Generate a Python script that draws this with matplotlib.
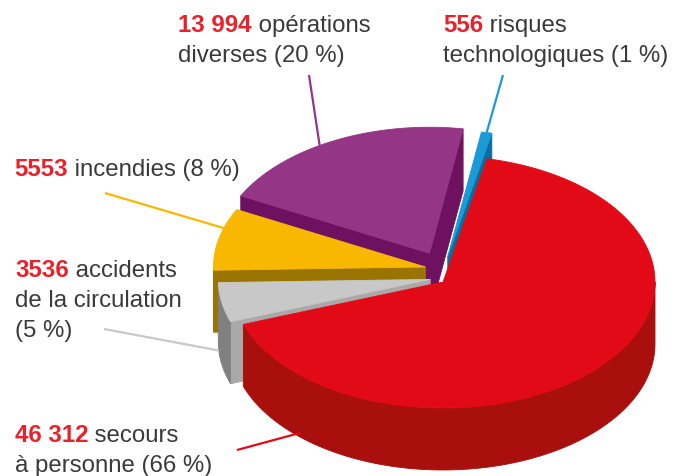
import numpy as np
import matplotlib.pyplot as plt
from matplotlib.patches import Polygon

# interventions par type, ordre anti-horaire en partant du haut
categories = ["risques technologiques", "opérations diverses", "incendies",
              "accidents de la circulation", "secours à personne"]
counts = [556, 13994, 5553, 3536, 46312]

# texte après le nombre, une entrée par ligne ; {p} = pourcentage
label_lines = [
    [" risques", "technologiques ({p} %)"],
    [" opérations", "diverses ({p} %)"],
    [" incendies ({p} %)"],
    [" accidents", "de la circulation", "({p} %)"],
    [" secours", "à personne ({p} %)"],
]

# couleurs: dessus, flanc extérieur, faces radiales
top_colors = ["#1a9ad6", "#943586", "#f9b800", "#c8c8c8", "#e20a16"]
side_colors = ["#0a78ae", "#7a1668", "#9a7400", "#808080", "#a80f0d"]
face_colors = ["#0b6d9e", "#6e1160", "#9a7400", "#a9a9a9", "#a80f0d"]
explode = [26, 30, 18, 13, 0]          # px, along the slice middle
lift = [0, 2, 11, 5, 0]                # extra px upwards

CX, CY = 443, 283        # pie centre (px)
RX, RY = 212, 126        # ellipse radii
DEPTH = 62
START = 78               # degrees

# label placement (px): text origin of first line, tail of leader line
text_pos = [(443, 31.7), (178, 31.7), (14, 176), (15, 277), (15, 442)]
leader_tail = [(503, 76), (309, 76), (105, 194), (104, 330), (237, 451)]
anchor_frac = [0.5, 0.56, 0.32, 0.2, 0.117]
anchor_drop = [0, 0, 0, 60, 58]

NUM_COLOR = "#e8212b"
TXT_COLOR = "#3a3a3a"
FONT = "Liberation Sans"
FS = 17.3
LINE_H = 30

total = sum(counts)
fracs = [c / total for c in counts]
bounds = START + 360 * np.concatenate([[0], np.cumsum(fracs)])

fig = plt.figure(figsize=(6.78, 4.77), dpi=100)
ax = fig.add_axes([0, 0, 1, 1])
ax.set_xlim(0, 678)
ax.set_ylim(477, 0)
ax.axis("off")


def rim(cx, cy, deg):
    r = np.radians(deg)
    return cx + RX * np.cos(r), cy - RY * np.sin(r)


def poly(pts, color, z):
    ax.add_patch(Polygon(pts, closed=True, facecolor=color, edgecolor=color,
                         lw=0.6, zorder=z))


def centre(i):
    m = np.radians((bounds[i] + bounds[i + 1]) / 2)
    return (CX + explode[i] * np.cos(m),
            CY - explode[i] * np.sin(m) - lift[i])


mids = (bounds[:-1] + bounds[1:]) / 2
order = np.argsort(-np.sin(np.radians(mids)))   # back to front

z = 1
for i in order:
    t1, t2 = bounds[i], bounds[i + 1]
    cx, cy = centre(i)
    # radial faces
    for t, normal in ((t1, t1 - 90), (t2, t2 + 90)):
        if np.sin(np.radians(normal)) < 0:
            ex, ey = rim(cx, cy, t)
            poly([(cx, cy), (ex, ey), (ex, ey + DEPTH), (cx, cy + DEPTH)],
                 face_colors[i], z)
    # outer side, only the front half
    for k in range(-1, 3):
        a = max(t1, 180 + 360 * k)
        b = min(t2, 360 + 360 * k)
        if b > a:
            ts = np.linspace(a, b, 120)
            xs, ys = rim(cx, cy, ts)
            pts = list(zip(xs, ys)) + list(zip(xs[::-1], ys[::-1] + DEPTH))
            poly(pts, side_colors[i], z)
    # top
    ts = np.linspace(t1, t2, 200)
    xs, ys = rim(cx, cy, ts)
    poly([(cx, cy)] + list(zip(xs, ys)), top_colors[i], z + 0.5)
    z += 1

# leader lines and labels
for i in range(len(counts)):
    cx, cy = centre(i)
    a = bounds[i] + anchor_frac[i] * (bounds[i + 1] - bounds[i])
    ex, ey = rim(cx, cy, a)
    tx, ty = leader_tail[i]
    ax.plot([tx, ex], [ty, ey + anchor_drop[i]], color=top_colors[i],
            lw=1.6, zorder=20, solid_capstyle="butt")

    n = counts[i]
    num = "{:,}".format(n).replace(",", " ") if n >= 10000 else str(n)
    p = round(100 * n / total)
    x0, y0 = text_pos[i]
    t_num = ax.text(x0, y0, num, color=NUM_COLOR, fontsize=FS, family=FONT,
                    fontweight="bold", va="baseline", ha="left", zorder=30)
    lines = [s.format(p=p) for s in label_lines[i]]
    ax.annotate(lines[0], xy=(1, y0), xycoords=(t_num, "data"),
                color=TXT_COLOR, fontsize=FS, family=FONT,
                va="baseline", ha="left", zorder=30)
    for j, s in enumerate(lines[1:], start=1):
        ax.text(x0, y0 + j * LINE_H, s, color=TXT_COLOR, fontsize=FS,
                family=FONT, va="baseline", ha="left", zorder=30)

fig.savefig("out.png", dpi=100, facecolor="white")
